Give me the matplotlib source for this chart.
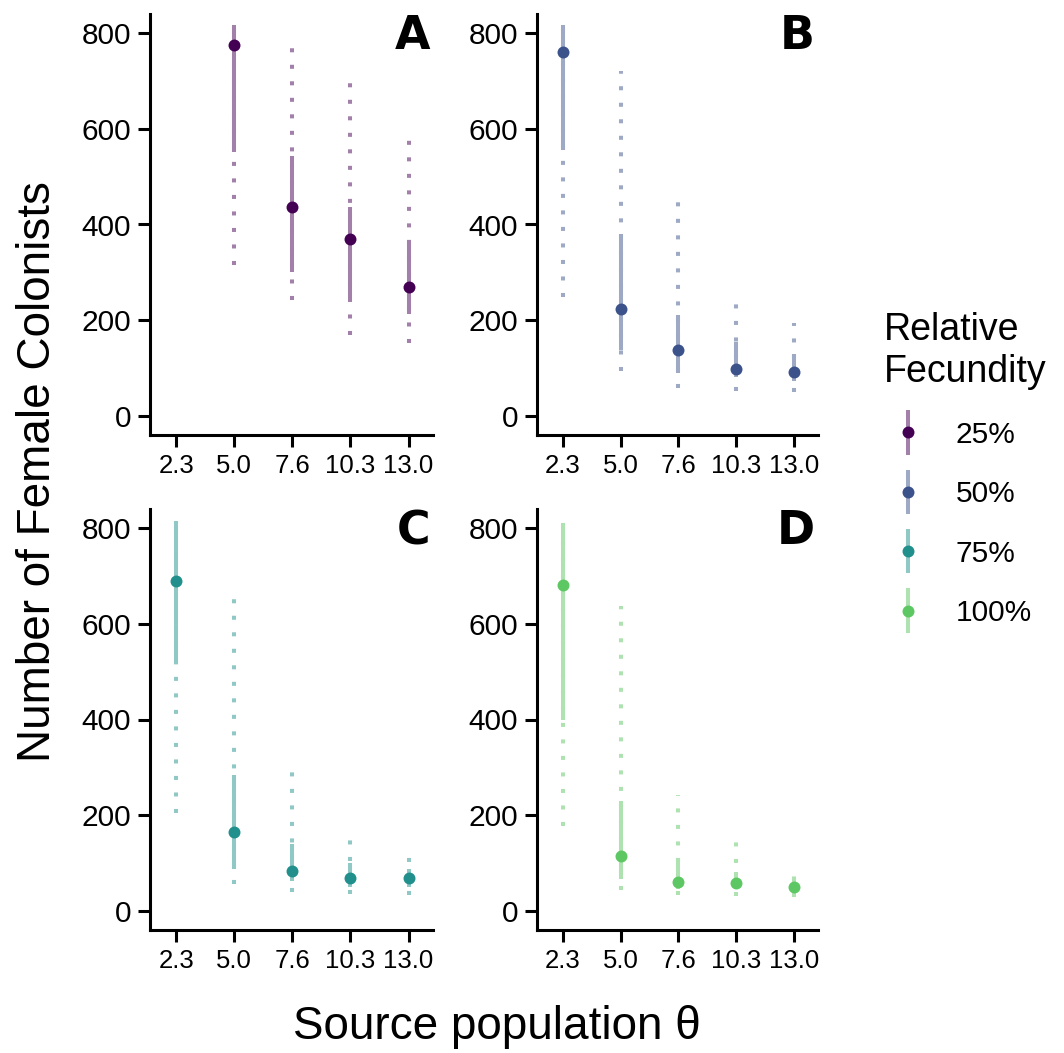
import numpy as np
import matplotlib
matplotlib.use("Agg")
import matplotlib.pyplot as plt
from matplotlib.lines import Line2D
from matplotlib.legend_handler import HandlerBase
from matplotlib.colors import to_rgb

plt.rcParams['font.family'] = ['Liberation Sans', 'DejaVu Sans']

theta = ["2.3", "5.0", "7.6", "10.3", "13.0"]
fecundity = ["25%", "50%", "75%", "100%"]
panel_letters = ["A", "B", "C", "D"]
colors = ["#440154", "#3b528b", "#21908c", "#5dc863"]

nan = np.nan
# median, 50% interval, 95% interval for each panel
median = [
    [nan, 775, 436, 369, 270],
    [760, 223, 138, 98, 92],
    [690, 164, 83, 68, 68],
    [681, 115, 60, 58, 49],
]
lo50 = [
    [nan, 551, 301, 246, 213],
    [555, 138, 90, 82, 73],
    [516, 87, 63, 49, 49],
    [400, 66, 45, 45, 39],
]
hi50 = [
    [nan, 816, 543, 437, 363],
    [816, 380, 211, 154, 129],
    [815, 285, 139, 101, 87],
    [811, 229, 110, 81, 68],
]
lo95 = [
    [nan, 315, 242, 169, 153],
    [249, 94, 58, 52, 50],
    [204, 56, 39, 35, 33],
    [177, 44, 33, 31, 29],
]
hi95 = [
    [nan, 816, 781, 705, 599],
    [816, 720, 447, 253, 194],
    [815, 659, 308, 166, 117],
    [811, 637, 243, 146, 99],
]


def light(c, a=0.5):
    r, g, b = to_rgb(c)
    return (1 - a + a * r, 1 - a + a * g, 1 - a + a * b)


class VLineDot(HandlerBase):
    def create_artists(self, legend, orig_handle, xdescent, ydescent,
                       width, height, fontsize, trans):
        c = orig_handle.get_color()
        cx = width / 2 - xdescent
        cy = height / 2 - ydescent
        ln = Line2D([cx, cx], [cy - 16, cy + 16], color=light(c), lw=2.9,
                    solid_capstyle='butt', transform=trans)
        dot = Line2D([cx], [cy], marker='o', ms=8.6, color=c, lw=0,
                     markeredgewidth=0, transform=trans)
        return [ln, dot]


fig = plt.figure(figsize=(10.64, 10.53), dpi=100)
W, H = 1064, 1053
boxes = [(150, 14, 433, 435), (537, 14, 818, 435),
         (150, 509, 433, 930), (537, 509, 818, 930)]

x = np.arange(1, len(theta) + 1)
for i, (l, t, r, b) in enumerate(boxes):
    ax = fig.add_axes([l / W, 1 - b / H, (r - l) / W, (b - t) / H])
    c = colors[i]
    lc = light(c)
    for j in range(len(theta)):
        if np.isnan(median[i][j]):
            continue
        ax.plot([x[j], x[j]], [lo95[i][j], hi95[i][j]], color=lc, lw=2.9,
                linestyle=(0, (1, 3.1)), dash_capstyle='butt', zorder=1)
        ax.plot([x[j], x[j]], [lo50[i][j], hi50[i][j]], color=lc, lw=2.9,
                solid_capstyle='butt', zorder=2)
    ax.plot(x, median[i], 'o', color=c, ms=8.6, markeredgewidth=0, zorder=3)

    ax.set_xlim(0.55, 5.42)
    ax.set_ylim(-40, 840)
    ax.set_xticks(x)
    ax.set_xticklabels(theta, fontsize=18.5)
    ax.set_yticks([0, 200, 400, 600, 800])
    ax.tick_params(axis='y', labelsize=21.5, pad=5)
    ax.tick_params(axis='x', pad=5)
    ax.tick_params(length=8.5, width=2.2, color='black', labelcolor='black')
    for s in ['top', 'right']:
        ax.spines[s].set_visible(False)
    for s in ['left', 'bottom']:
        ax.spines[s].set_linewidth(2.2)
    ax.text(0.99, 1.0, panel_letters[i], transform=ax.transAxes, ha='right',
            va='top', fontsize=33, fontweight='bold', family='DejaVu Sans')

fig.text(38 / W, 0.5 * (1 - 14 / H + 1 - 930 / H), "Number of Female Colonists",
         rotation=90, ha='center', va='center', fontsize=33)
fig.text(497 / W, 1 - 1027 / H, "Source population θ", ha='center',
         va='center', fontsize=33)

handles = [Line2D([], [], color=c) for c in colors]
leg = fig.legend(handles, fecundity, handler_map={Line2D: VLineDot()},
                 title="Relative\nFecundity", loc='upper left',
                 bbox_to_anchor=(872 / W, 1 - 300 / H), frameon=False,
                 fontsize=21.5, title_fontsize=27, alignment='left',
                 handlelength=1.6, handletextpad=0.8, labelspacing=1.05,
                 borderaxespad=0)

fig.savefig("out.png", dpi=100)
